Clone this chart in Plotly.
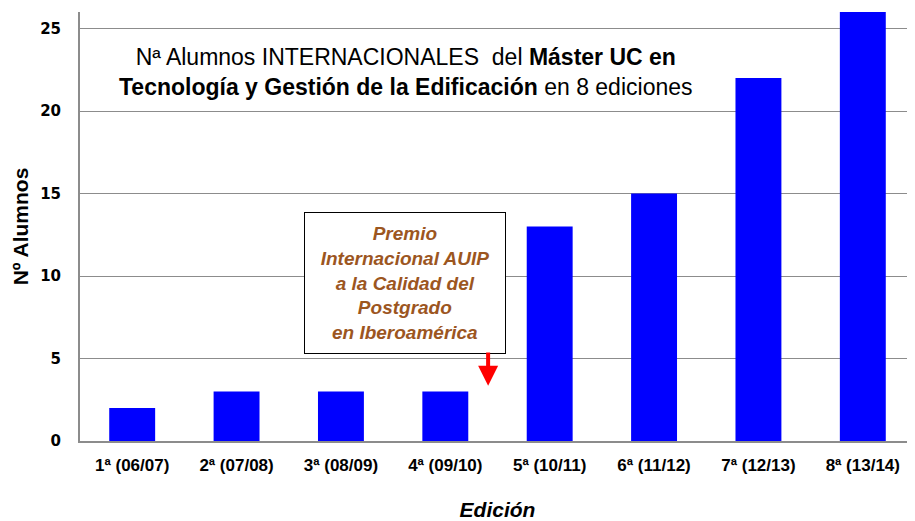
import plotly.graph_objects as go

categories = ["1ª (06/07)", "2ª (07/08)", "3ª (08/09)", "4ª (09/10)",
              "5ª (10/11)", "6ª (11/12)", "7ª (12/13)", "8ª (13/14)"]
alumnos = [2, 3, 3, 3, 13, 15, 22, 26]
y_ticks = [0, 5, 10, 15, 20, 25]

sans = "Liberation Sans, Arial, sans-serif"

fig = go.Figure()
fig.add_trace(go.Bar(
    x=list(range(len(categories))), y=alumnos,
    marker=dict(color="#0000FF", line=dict(width=0)),
    width=0.44,
))

fig.update_layout(
    width=907, height=513,
    margin=dict(l=72, r=0, t=4, b=80, autoexpand=False),
    paper_bgcolor="white", plot_bgcolor="white",
    showlegend=False,
    xaxis=dict(
        range=[-0.5, 7.5], tickvals=list(range(len(categories))), ticktext=categories,
        showgrid=False, showline=True, linecolor="#8c8c8c", linewidth=2,
        ticks="", automargin=False, ticklabelstandoff=8,
        tickfont=dict(family=sans, size=17, color="black", weight="bold"),
        title=dict(text="<b><i>Edición</i></b>", font=dict(family=sans, size=21, color="black"),
                   standoff=30),
    ),
    yaxis=dict(
        range=[0, 26], tickvals=y_ticks, showgrid=True, gridcolor="#8c8c8c", gridwidth=1,
        showline=True, linecolor="#8c8c8c", linewidth=2, zeroline=False,
        ticks="outside", ticklen=14, tickcolor="rgba(0,0,0,0)", automargin=False,
        tickfont=dict(family="DejaVu Sans, Verdana", size=15, color="black", weight="bold"),
        title=dict(text="<b>Nº Alumnos</b>", font=dict(family=sans, size=21, color="black"),
                   standoff=6),
    ),
)

fig.add_annotation(
    xref="paper", yref="paper", x=(406 - 80) / 835, y=(441 - 72) / 429,
    xanchor="center", yanchor="middle",
    showarrow=False, align="center",
    text="Nª Alumnos INTERNACIONALES  del <b>Máster UC en</b><br><b>Tecnología y Gestión de la Edificación</b> en 8 ediciones",
    font=dict(family=sans, size=23, color="black"),
)

fig.add_annotation(
    xref="paper", yref="paper", x=(405 - 80) / 835, y=(441 - 283) / 429,
    xanchor="center", yanchor="middle", showarrow=False, align="center",
    text="<b><i>Premio<br>Internacional AUIP<br>a la Calidad del<br>Postgrado<br>en Iberoamérica</i></b>",
    font=dict(family=sans, size=19, color="#9C561F"),
    bgcolor="white", bordercolor="black", borderwidth=1,
    width=198, height=138,
)

fig.add_annotation(
    xref="x", yref="y", x=3.41, y=3.35, ax=3.41, ay=5.45, axref="x", ayref="y",
    showarrow=True, arrowhead=2, arrowsize=1, arrowwidth=4, arrowcolor="#FF0000", text="",
)

fig.write_html("out.html")
